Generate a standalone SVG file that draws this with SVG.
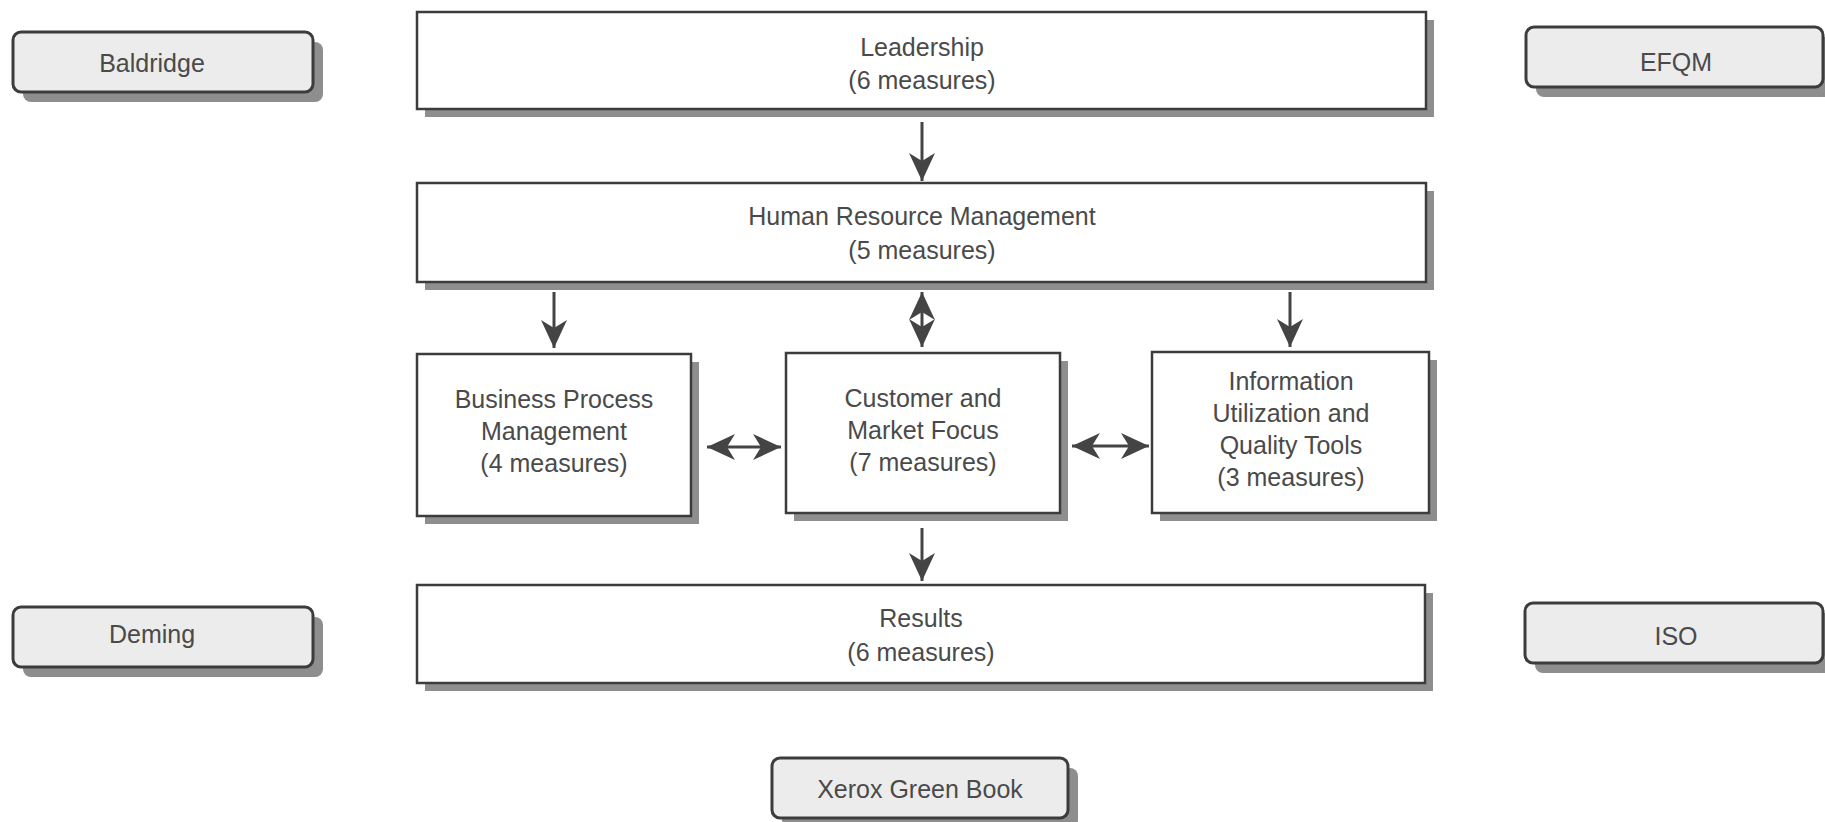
<svg xmlns="http://www.w3.org/2000/svg" width="1825" height="822" viewBox="0 0 1825 822">
<style>
.box{fill:#fff;stroke:#3c3c3c;stroke-width:2.5}
.shadow{fill:#8e8e8e}
.tag{fill:#ececec;stroke:#3c3c3c;stroke-width:3}
text{font-family:"Liberation Sans",Arial,sans-serif;font-size:25px;fill:#4a4a4a;text-anchor:middle}
#connectors line{stroke:#444;stroke-width:3;fill:none}
</style>
<defs>
<marker id="ah" viewBox="0 0 28 28" refX="28" refY="14" markerWidth="28" markerHeight="28" markerUnits="userSpaceOnUse" orient="auto-start-reverse">
<path d="M0,1 L28,14 L0,27 L8,14 Z" fill="#444"/>
</marker>
</defs>
<rect width="1825" height="822" fill="#fff"/>

<g id="baldridge">
<rect class="shadow" x="23" y="42" width="300" height="60" rx="8"/>
<rect class="tag" x="13" y="32" width="300" height="60" rx="8"/>
<text x="152" y="72">Baldridge</text>
</g>
<g id="efqm">
<rect class="shadow" x="1536" y="37" width="297" height="60" rx="8"/>
<rect class="tag" x="1526" y="27" width="297" height="60" rx="8"/>
<text x="1676" y="71">EFQM</text>
</g>
<g id="deming">
<rect class="shadow" x="23" y="617" width="300" height="60" rx="8"/>
<rect class="tag" x="13" y="607" width="300" height="60" rx="8"/>
<text x="152" y="643">Deming</text>
</g>
<g id="iso">
<rect class="shadow" x="1535" y="613" width="298" height="60" rx="8"/>
<rect class="tag" x="1525" y="603" width="298" height="60" rx="8"/>
<text x="1676" y="645">ISO</text>
</g>
<g id="xerox">
<rect class="shadow" x="782" y="768" width="296" height="60" rx="8"/>
<rect class="tag" x="772" y="758" width="296" height="60" rx="8"/>
<text x="920" y="798">Xerox Green Book</text>
</g>

<g id="leadership">
<rect class="shadow" x="425" y="20" width="1009" height="97"/>
<rect class="box" x="417" y="12" width="1009" height="97"/>
<text x="922" y="56">Leadership</text>
<text x="922" y="89">(6 measures)</text>
</g>
<g id="hrm">
<rect class="shadow" x="425" y="191" width="1009" height="99"/>
<rect class="box" x="417" y="183" width="1009" height="99"/>
<text x="922" y="225">Human Resource Management</text>
<text x="922" y="259">(5 measures)</text>
</g>
<g id="bpm">
<rect class="shadow" x="425" y="362" width="274" height="162"/>
<rect class="box" x="417" y="354" width="274" height="162"/>
<text x="554" y="408">Business Process</text>
<text x="554" y="440">Management</text>
<text x="554" y="472">(4 measures)</text>
</g>
<g id="cmf">
<rect class="shadow" x="794" y="361" width="274" height="160"/>
<rect class="box" x="786" y="353" width="274" height="160"/>
<text x="923" y="407">Customer and</text>
<text x="923" y="439">Market Focus</text>
<text x="923" y="471">(7 measures)</text>
</g>
<g id="iuqt">
<rect class="shadow" x="1160" y="360" width="277" height="161"/>
<rect class="box" x="1152" y="352" width="277" height="161"/>
<text x="1291" y="390">Information</text>
<text x="1291" y="422">Utilization and</text>
<text x="1291" y="454">Quality Tools</text>
<text x="1291" y="486">(3 measures)</text>
</g>
<g id="results">
<rect class="shadow" x="425" y="593" width="1008" height="98"/>
<rect class="box" x="417" y="585" width="1008" height="98"/>
<text x="921" y="627">Results</text>
<text x="921" y="661">(6 measures)</text>
</g>

<g id="connectors">
<line x1="922" y1="122" x2="922" y2="181" marker-end="url(#ah)"/>
<line x1="554" y1="292" x2="554" y2="348" marker-end="url(#ah)"/>
<line x1="922" y1="292" x2="922" y2="347" marker-start="url(#ah)" marker-end="url(#ah)"/>
<line x1="1290" y1="292" x2="1290" y2="347" marker-end="url(#ah)"/>
<line x1="707" y1="447" x2="781" y2="447" marker-start="url(#ah)" marker-end="url(#ah)"/>
<line x1="1072" y1="446" x2="1149" y2="446" marker-start="url(#ah)" marker-end="url(#ah)"/>
<line x1="922" y1="528" x2="922" y2="581" marker-end="url(#ah)"/>
</g>
</svg>
